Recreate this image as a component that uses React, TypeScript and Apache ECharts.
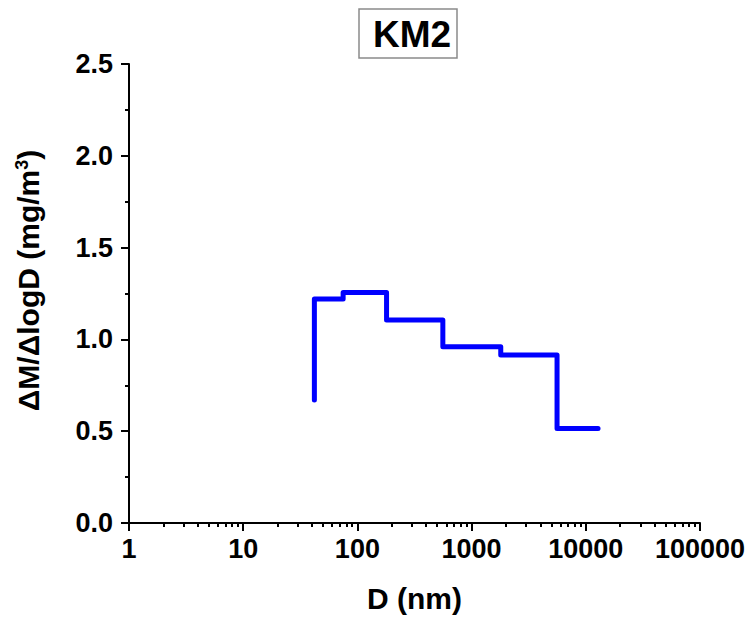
import React, { useEffect, useRef } from "react";
import * as echarts from "echarts";

const titleText = "KM2";
const xName = "D (nm)";
const binEdges = [42, 75, 180, 560, 1800, 5600, 12800];
const binValues = [1.22, 1.255, 1.105, 0.96, 0.915, 0.515];
const startValue = 0.67;
const yTicks = [0, 0.5, 1.0, 1.5, 2.0, 2.5];
const xTicks = [1, 10, 100, 1000, 10000, 100000];

const FONT = "Liberation Sans, Arial, sans-serif";

export default function App() {
  const ref = useRef<HTMLDivElement>(null);
  useEffect(() => {
    if (!ref.current) return;
    const chart = echarts.init(ref.current, undefined, { renderer: "svg" });
    const pts: [number, number][] = [[binEdges[0], startValue]];
    binValues.forEach((v, i) => {
      pts.push([binEdges[i], v]);
      pts.push([binEdges[i + 1], v]);
    });
    chart.setOption({
      animation: false,
      backgroundColor: "#ffffff",
      title: {
        text: titleText,
        left: 359,
        top: 9,
        borderColor: "#8a8a8a",
        borderWidth: 1.5,
        padding: [7, 6, 6, 14],
        textStyle: {
          fontFamily: FONT,
          fontWeight: "bold",
          fontSize: 37,
          lineHeight: 36,
          color: "#000",
        },
      },
      grid: { left: 129, right: 55, top: 64, bottom: 99, containLabel: false },
      xAxis: {
        type: "log",
        logBase: 10,
        min: xTicks[0],
        max: xTicks[xTicks.length - 1],
        name: xName,
        nameLocation: "middle",
        nameGap: 60,
        nameTextStyle: { fontFamily: FONT, fontWeight: "bold", fontSize: 30, color: "#000" },
        axisLine: { show: true, onZero: false, lineStyle: { color: "#000", width: 2 } },
        axisTick: { show: true, inside: false, length: 8, lineStyle: { color: "#000", width: 2 } },
        minorTick: { show: true, splitNumber: 9, length: 4, lineStyle: { color: "#000", width: 2 } },
        axisLabel: {
          fontFamily: FONT,
          fontWeight: "bold",
          fontSize: 27,
          color: "#000",
          margin: 12,
          formatter: (v: number) => String(Math.round(v)),
        },
        splitLine: { show: false },
        minorSplitLine: { show: false },
      },
      yAxis: {
        type: "value",
        min: yTicks[0],
        max: yTicks[yTicks.length - 1],
        interval: 0.5,
        name: "{a|ΔM/ΔlogD (mg/m}{s|3}{a|)}",
        nameLocation: "middle",
        nameRotate: 90,
        nameGap: 86,
        nameTextStyle: {
          fontFamily: FONT,
          fontWeight: "bold",
          color: "#000",
          padding: [0, 0, 0, 26],
          rich: {
            a: { fontFamily: FONT, fontWeight: "bold", fontSize: 30, lineHeight: 30, verticalAlign: "bottom", color: "#000" },
            s: { fontFamily: FONT, fontWeight: "bold", fontSize: 18, lineHeight: 18, color: "#000", verticalAlign: "top", padding: [0, 0, 22, 0] },
          },
        },
        axisLine: { show: true, lineStyle: { color: "#000", width: 2 } },
        axisTick: { show: true, inside: false, length: 8, lineStyle: { color: "#000", width: 2 } },
        minorTick: { show: true, splitNumber: 2, length: 4, lineStyle: { color: "#000", width: 2 } },
        axisLabel: {
          fontFamily: FONT,
          fontWeight: "bold",
          fontSize: 27,
          color: "#000",
          margin: 16,
          formatter: (v: number) => v.toFixed(1),
        },
        splitLine: { show: false },
      },
      series: [
        {
          type: "line",
          data: pts,
          showSymbol: false,
          symbol: "none",
          lineStyle: { color: "#0000ff", width: 5, cap: "round", join: "round" },
          clip: false,
        },
      ],
    });
    return () => chart.dispose();
  }, []);
  return <div ref={ref} style={{ width: 755, height: 622, position: "absolute", left: 0, top: 0 }} />;
}
